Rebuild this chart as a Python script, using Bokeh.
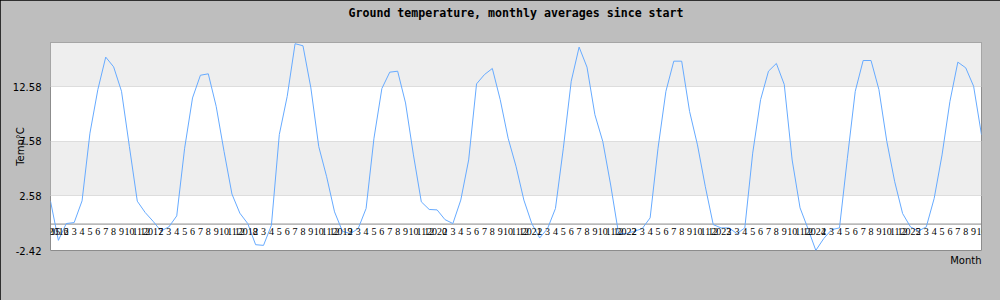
from bokeh.plotting import figure
from bokeh.models import FixedTicker, PrintfTickFormatter, BoxAnnotation, Span, Title, Range1d, ColumnDataSource, LabelSet
from bokeh.embed import file_html
from bokeh.resources import INLINE

title_text = "Ground temperature, monthly averages since start"
y_axis_title = "Temp\u00b0C"
x_axis_title = "Month"
first_label = "2015"
years = [2016, 2017, 2018, 2019, 2020, 2021, 2022, 2023, 2024, 2025]
month_labels = ["2", "3", "4", "5", "6", "7", "8", "9", "10", "11", "12"]

temps = [
    2.10, -1.49, 0.05, 0.14, 2.13, 8.33, 12.32, 15.30, 14.41, 12.17, 7.10, 2.10,
    1.06, 0.26, -0.63, -0.26, 0.75, 6.95, 11.56, 13.64, 13.77, 10.79, 6.65, 2.75,
    1.00, 0.05, -1.89, -1.95, -0.10, 8.20, 11.70, 16.53, 16.34, 12.48, 7.10, 4.34,
    1.12, -0.66, -0.87, -0.41, 1.43, 7.87, 12.42, 13.92, 14.01, 11.10, 6.34, 2.04,
    1.34, 1.30, 0.41, 0.05, 2.20, 5.88, 12.85, 13.70, 14.26, 11.40, 7.87, 5.30,
    2.20, 0.05, -1.27, -0.41, 1.43, 6.95, 13.09, 16.22, 14.38, 10.02, 7.57, 3.58,
    -0.87, -0.87, -0.66, -0.41, 0.57, 6.95, 12.17, 14.93, 14.93, 10.33, 7.26, 3.42,
    -0.05, -0.35, -0.35, -0.87, -0.35, 6.50, 11.40, 14.01, 14.72, 12.79, 5.88, 1.49,
    -0.41, -2.41, -1.33, -0.51, -0.35, 6.03, 12.17, 14.99, 14.99, 12.32, 7.57, 3.88,
    0.97, -0.26, -0.63, -0.26, 2.35, 6.34, 11.25, 14.84, 14.32, 12.63, 8.18,
]

y_ticks = [-2.42, 2.58, 7.58, 12.58]
y_min, y_max = -2.42, 16.64

labels = [first_label]
for yr in years:
    labels.append(str(yr))
    labels.extend(month_labels)
labels = labels[:len(temps)]
xs = list(range(len(temps)))

p = figure(width=1000, height=300, output_backend="svg", toolbar_location=None,
           x_range=Range1d(0, len(temps) - 1), y_range=Range1d(y_min, y_max),
           min_border_left=50, min_border_right=19, min_border_top=42, min_border_bottom=50,
           x_axis_location=None, background_fill_color="white", border_fill_color="#bebebe",
           styles={"outline": "1px solid black", "outline-offset": "-1px"})

p.title.text = title_text
p.title.align = "center"
p.title.text_font = "DejaVu Sans Mono"
p.title.text_font_style = "bold"
p.title.text_font_size = "11.6px"
p.title.text_color = "black"
p.title.offset = -15
p.title.standoff = 0

# blank spacer between the title and the plot frame
p.add_layout(Title(text=" ", text_font_size="19px", standoff=0), "above")

p.add_layout(Title(text=x_axis_title, align="right", text_font="DejaVu Sans",
                   text_font_style="normal", text_font_size="10px", text_color="black",
                   standoff=4), "below")

p.outline_line_color = "#8c8c8c"
p.outline_line_width = 1

p.xgrid.visible = False
p.ygrid.ticker = FixedTicker(ticks=y_ticks)
p.ygrid.grid_line_color = "#dddddd"

ax = p.yaxis[0]
ax.ticker = FixedTicker(ticks=y_ticks)
ax.formatter = PrintfTickFormatter(format="%.2f")
ax.major_tick_line_color = None
ax.minor_tick_line_color = None
ax.major_tick_out = 0
ax.major_tick_in = 0
ax.axis_line_color = None
ax.major_label_standoff = 9
ax.major_label_text_font = "DejaVu Sans"
ax.major_label_text_font_size = "10px"
ax.major_label_text_color = "black"
ax.axis_label = y_axis_title
ax.axis_label_text_font = "DejaVu Sans"
ax.axis_label_text_font_style = "normal"
ax.axis_label_text_font_size = "10px"
ax.axis_label_text_color = "black"
ax.axis_label_standoff = -16

for lo, hi in [(y_ticks[1], y_ticks[2]), (y_ticks[3], None)]:
    p.add_layout(BoxAnnotation(bottom=lo, top=hi, fill_color="#eeeeee", fill_alpha=1.0,
                               line_alpha=0, level="image"))

p.add_layout(Span(location=0, dimension="width", line_color="#888888", line_width=1,
                  level="underlay"))

src = ColumnDataSource(dict(x=xs, y=temps, zero=[0] * len(temps), lab=labels))
p.add_layout(LabelSet(x="x", y="zero", text="lab", source=src, text_align="center",
                      text_baseline="top", y_offset=-4, text_font="DejaVu Sans",
                      text_font_size="10px", text_color="black", level="glyph"))
p.line(x="x", y="y", source=src, line_color="#66aaff", line_width=1)

open("out.html", "w").write(file_html(p, INLINE))
